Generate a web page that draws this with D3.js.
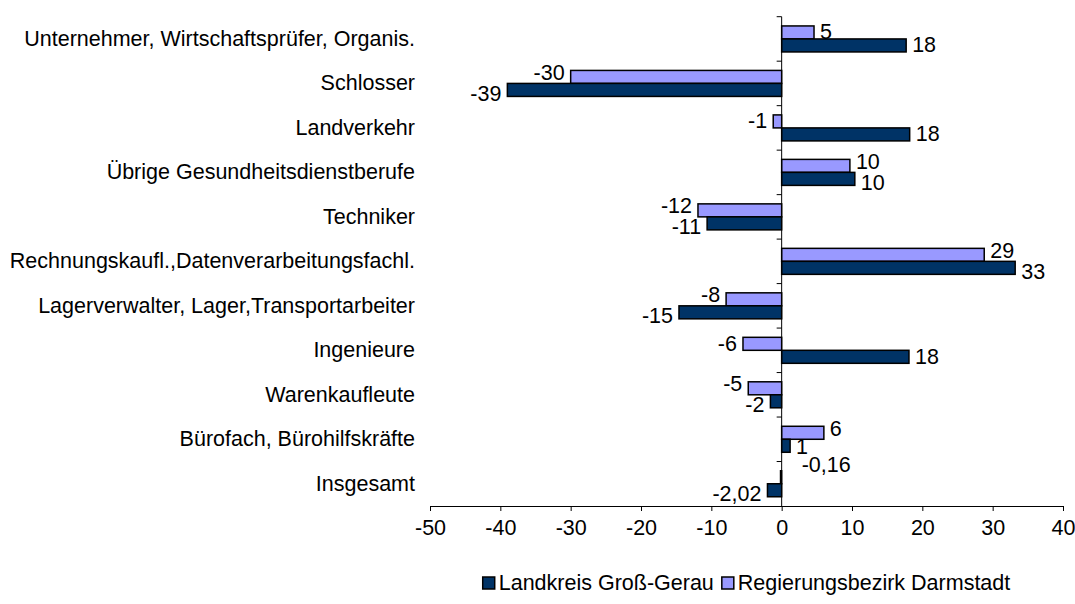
<!DOCTYPE html>
<html>
<head>
<meta charset="utf-8">
<script src="https://cdn.jsdelivr.net/npm/d3@7"></script>
<style>
  body { margin: 0; background: #fff; }
  text { font-family: "Liberation Sans", Arial, sans-serif; fill: #000; }
</style>
</head>
<body>
<script>
const width = 1075;
const height = 604;

// categories, top to bottom
const categories = [
  "Unternehmer, Wirtschaftsprüfer, Organis.",
  "Schlosser",
  "Landverkehr",
  "Übrige Gesundheitsdienstberufe",
  "Techniker",
  "Rechnungskaufl.,Datenverarbeitungsfachl.",
  "Lagerverwalter, Lager,Transportarbeiter",
  "Ingenieure",
  "Warenkaufleute",
  "Bürofach, Bürohilfskräfte",
  "Insgesamt"
];

// Landkreis Groß-Gerau
const grossGerau = [17.7, -39.0, 18.2, 10.4, -10.6, 33.2, -14.6, 18.1, -1.6, 1.2, -2.02];
// Regierungsbezirk Darmstadt
const darmstadt = [4.6, -30.0, -1.2, 9.7, -11.9, 28.8, -7.9, -5.5, -4.75, 6.0, -0.16];

const xTicks = [-50, -40, -30, -20, -10, 0, 10, 20, 30, 40];

const seriesNames = ["Landkreis Groß-Gerau", "Regierungsbezirk Darmstadt"];
const colors = { gg: "#003366", da: "#9999ff" };

const fontSize = 21.5;

let margin = { top: 16.7, right: 12, bottom: 98, left: 430 };

let svg = d3
  .select("body")
  .append("svg")
  .attr("width", width)
  .attr("height", height);

let xScale = d3
  .scaleLinear()
  .domain([-50, 40])
  .range([margin.left, width - margin.right]);

let yScale = d3
  .scaleBand()
  .domain(categories)
  .range([margin.top, height - margin.bottom])
  .paddingInner(0)
  .paddingOuter(0);

const barH = 13;

const locale = d3.formatLocale({ decimal: ",", thousands: ".", grouping: [3], currency: ["", " €"], minus: "-" });
const fmtInt = locale.format(".0f");
const fmtDec = locale.format(".2f");

function fmt(cat, v) {
  return cat === "Insgesamt" ? fmtDec(v) : fmtInt(v);
}

// rows
let rows = categories.map((c, i) => ({ cat: c, gg: grossGerau[i], da: darmstadt[i] }));

// bars: light (Darmstadt) above, dark (Groß-Gerau) below
let bars = [];
rows.forEach((r) => {
  bars.push({ cat: r.cat, key: "da", v: r.da, other: r.gg, off: -barH });
  bars.push({ cat: r.cat, key: "gg", v: r.gg, other: r.da, off: 0 });
});

let yc = (d) => yScale(d.cat) + yScale.bandwidth() / 2;

svg
  .append("g")
  .selectAll("rect")
  .data(bars)
  .join("rect")
  .attr("x", (d) => Math.min(xScale(0), xScale(d.v)))
  .attr("y", (d) => yc(d) + d.off)
  .attr("width", (d) => Math.abs(xScale(d.v) - xScale(0)))
  .attr("height", barH)
  .attr("fill", (d) => colors[d.key])
  .attr("stroke", "#000")
  .attr("stroke-width", 1.5);

// value labels
svg
  .append("g")
  .selectAll("text")
  .data(bars)
  .join("text")
  .attr("font-size", fontSize)
  .attr("dominant-baseline", "central")
  .each(function (d) {
    let t = d3.select(this);
    let x, y, anchor;
    y = yc(d) + d.off + barH / 2;
    if (Math.abs(d.v) < 0.5) {
      // too thin: label pushed up to the right of the axis
      x = xScale(0) + 20;
      y = yc(d) - 19;
      anchor = "start";
    } else if (d.v >= 0) {
      x = xScale(d.v) + 6;
      anchor = "start";
    } else {
      x = xScale(d.v) - 6;
      anchor = "end";
    }
    // nudge apart when both labels of a row collide
    if (Math.abs(d.v) >= 0.5 && Math.sign(d.v) === Math.sign(d.other) && Math.abs(d.v - d.other) < 10) {
      y += d.key === "da" ? -4 : 4;
    }
    // small label sitting next to the thin bar of the row below
    if (d.cat === "Bürofach, Bürohilfskräfte" && d.key === "gg") y -= 3;
    t.attr("x", x).attr("y", y).attr("text-anchor", anchor).text(fmt(d.cat, d.v));
  });

// x axis
let xAxis = d3.axisBottom(xScale).tickValues(xTicks).tickSize(5).tickPadding(9);
let gx = svg
  .append("g")
  .attr("transform", `translate(0, ${height - margin.bottom})`)
  .call(xAxis);
gx.select(".domain").attr("stroke", "#000").attr("d", `M${xScale(-50)},0.5H${xScale(40)}`);
gx.selectAll(".tick line").attr("stroke", "#000");
gx.selectAll(".tick text")
  .attr("font-size", fontSize)
  .attr("font-family", "Liberation Sans, Arial, sans-serif")
  .text((d) => locale.format("d")(d));

// vertical zero axis with category ticks on the left
let g0 = svg.append("g");
g0.append("line")
  .attr("x1", xScale(0))
  .attr("x2", xScale(0))
  .attr("y1", margin.top)
  .attr("y2", height - margin.bottom)
  .attr("stroke", "#000");
g0.selectAll("line.t")
  .data(categories)
  .join("line")
  .attr("class", "t")
  .attr("x1", xScale(0) - 5)
  .attr("x2", xScale(0))
  .attr("y1", (d) => yScale(d))
  .attr("y2", (d) => yScale(d))
  .attr("stroke", "#000");

// category labels
svg
  .append("g")
  .selectAll("text")
  .data(categories)
  .join("text")
  .attr("x", 415)
  .attr("y", (d) => yScale(d) + yScale.bandwidth() / 2)
  .attr("text-anchor", "end")
  .attr("dominant-baseline", "central")
  .attr("font-size", fontSize)
  .text((d) => d);

// legend
let legend = svg.append("g").attr("transform", `translate(0, 583)`);
let items = legend
  .selectAll("g")
  .data(seriesNames)
  .join("g");
items
  .append("rect")
  .attr("y", -6)
  .attr("width", 12)
  .attr("height", 12)
  .attr("fill", (d, i) => (i === 0 ? colors.gg : colors.da))
  .attr("stroke", "#000")
  .attr("stroke-width", 1.5);
items
  .append("text")
  .attr("x", 16)
  .attr("dominant-baseline", "central")
  .attr("font-size", fontSize)
  .text((d) => d);
let widths = items.nodes().map((n) => n.getBBox().width);
let gap = 8;
let total = d3.sum(widths) + gap * (widths.length - 1);
let lx = (xScale(-50) + xScale(40)) / 2 - total / 2;
items.attr("transform", (d, i) => {
  let x = lx + d3.sum(widths.slice(0, i)) + gap * i;
  return `translate(${x}, 0)`;
});
</script>
</body>
</html>
